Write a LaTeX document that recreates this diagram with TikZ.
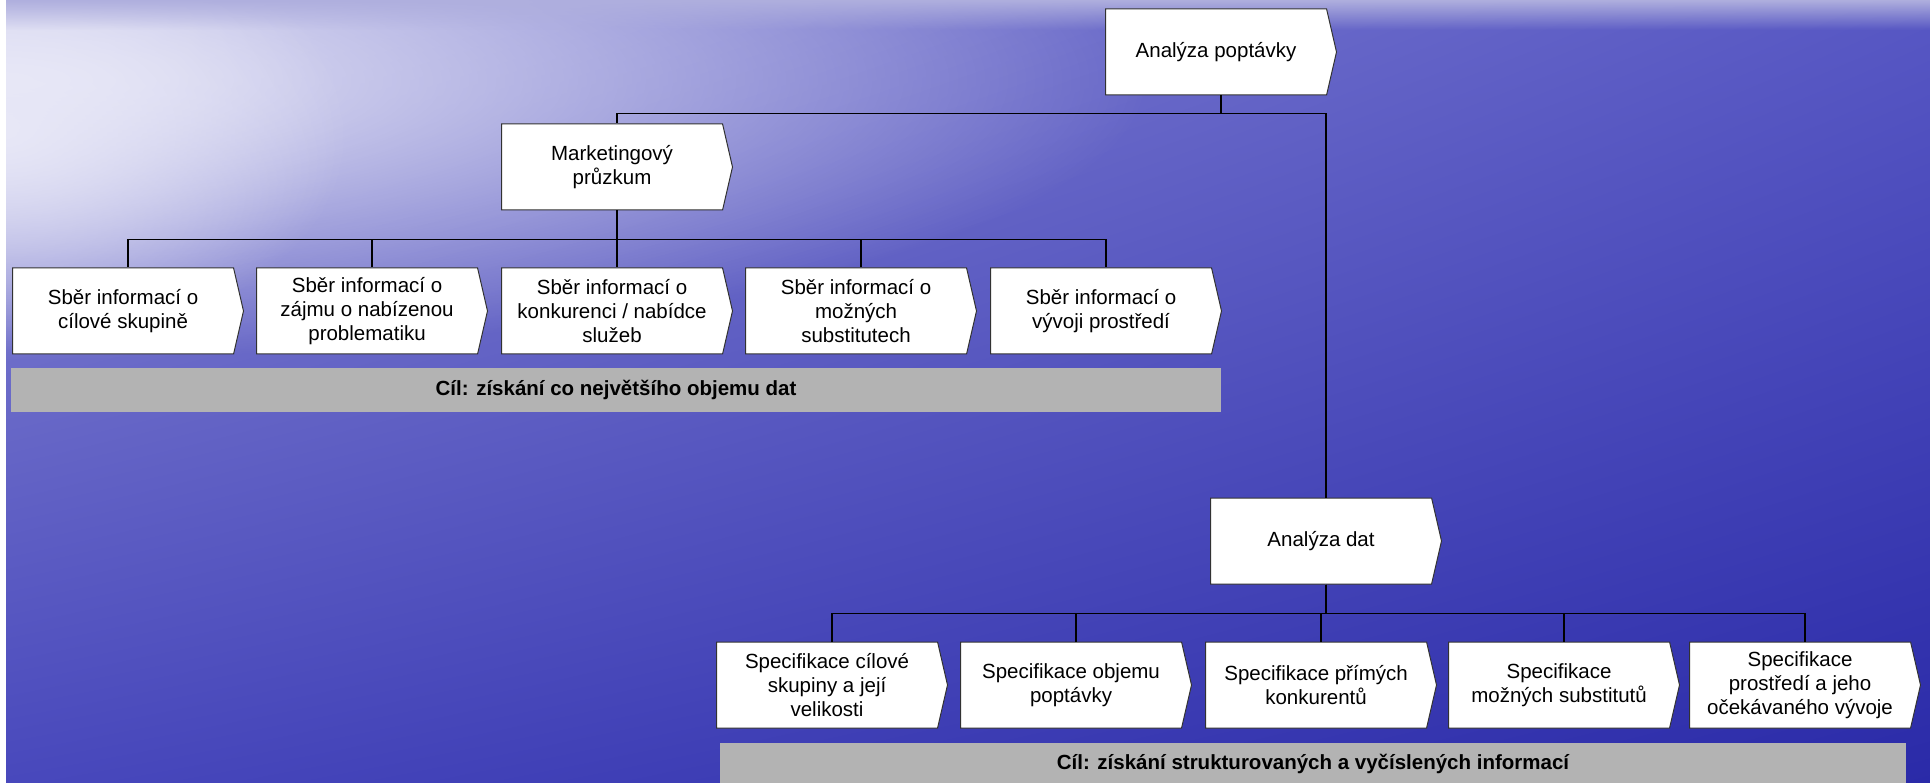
\documentclass[tikz,border=0pt]{standalone}
\usepackage{fontspec}
\setmainfont{Liberation Sans}
\usetikzlibrary{shapes.symbols,shadings,fadings}

\definecolor{seaUL}{RGB}{140,140,212}
\definecolor{seaUR}{RGB}{88,88,196}
\definecolor{seaLL}{RGB}{72,72,188}
\definecolor{seaLR}{RGB}{42,42,168}
\definecolor{glare}{RGB}{232,232,247}
\definecolor{topband}{RGB}{175,175,222}
\definecolor{bargray}{RGB}{179,179,179}
\definecolor{boxline}{RGB}{50,50,50}

\tikzfading[name=glarefade, inner color=transparent!0, outer color=transparent!100]

\begin{document}
\begin{tikzpicture}[
  x=1pt, y=-1pt,
  every node/.style={align=center, font=\fontsize{20.5}{24}\selectfont},
  stage/.style={signal, signal to=east, signal pointer angle=154, draw=boxline, line width=1pt, fill=white,
    minimum width=231pt, minimum height=86pt, inner sep=2pt, anchor=west},
  goal/.style={rectangle, fill=bargray, inner sep=0pt, font=\fontsize{20.5}{24}\selectfont\bfseries},
  link/.style={line width=1.4pt, black}
]

% Background (sea)
\useasboundingbox (0,0) rectangle (1930,783);
\shade[upper left=seaUL, upper right=seaUR, lower left=seaLL, lower right=seaLR] (0,0) rectangle (1930,783);
\fill[glare, path fading=glarefade] (0,80) ellipse [x radius=1150pt, y radius=280pt];
\fill[glare, path fading=glarefade] (0,130) ellipse [x radius=350pt, y radius=220pt];
\fill[topband, path fading=south] (0,0) rectangle (1930,30);
\fill[white] (0,0) rectangle (6,783);

% Top level
\node[stage] (poptavka) at (1105,52) {Analýza poptávky};

% Market research branch
\node[stage] (pruzkum) at (501,167) {Marketingový\\průzkum};

\node[stage] (sber1) at (12,311) {Sběr informací o\\cílové skupině};
\node[stage] (sber2) at (256,311) {Sběr informací o\\zájmu o nabízenou\\problematiku};
\node[stage] (sber3) at (501,311) {Sběr informací o\\konkurenci / nabídce\\služeb};
\node[stage] (sber4) at (745,311) {Sběr informací o\\možných\\substitutech};
\node[stage] (sber5) at (990,311) {Sběr informací o\\vývoji prostředí};

\node[goal, minimum width=1210pt, minimum height=43pt] (cil1) at (616,390) {Cíl: získání co největšího objemu dat};

% Data analysis branch
\node[stage] (analyza) at (1210,541) {Analýza dat};

\node[stage] (spec1) at (716,685) {Specifikace cílové\\skupiny a její\\velikosti};
\node[stage] (spec2) at (960,685) {Specifikace objemu\\poptávky};
\node[stage] (spec3) at (1205,685) {Specifikace přímých\\konkurentů};
\node[stage] (spec4) at (1448,685) {Specifikace\\možných substitutů};
\node[stage] (spec5) at (1689,685) {Specifikace\\prostředí a jeho\\očekávaného vývoje};

\node[goal, minimum width=1186pt, minimum height=42pt] (cil2) at (1313,764) {Cíl: získání strukturovaných a vyčíslených informací};

% Connectors (orthogonal tree, dropped at the middle of each arrow box)
\draw[link] ([xshift=5pt]poptavka.south) -- ++(0,18) -| ([xshift=5pt]pruzkum.north);
\draw[link] ([xshift=5pt]poptavka.south) -- ++(0,18) -| ([xshift=5pt]analyza.north);

\draw[link] ([xshift=5pt]pruzkum.south) -- ++(0,29) -| ([xshift=5pt]sber1.north);
\draw[link] ([xshift=5pt]pruzkum.south) -- ++(0,29) -| ([xshift=5pt]sber2.north);
\draw[link] ([xshift=5pt]pruzkum.south) -- ++(0,29) -| ([xshift=5pt]sber3.north);
\draw[link] ([xshift=5pt]pruzkum.south) -- ++(0,29) -| ([xshift=5pt]sber4.north);
\draw[link] ([xshift=5pt]pruzkum.south) -- ++(0,29) -| ([xshift=5pt]sber5.north);

\draw[link] ([xshift=5pt]analyza.south) -- ++(0,29) -| ([xshift=5pt]spec1.north);
\draw[link] ([xshift=5pt]analyza.south) -- ++(0,29) -| ([xshift=5pt]spec2.north);
\draw[link] ([xshift=5pt]analyza.south) -- ++(0,29) -| ([xshift=5pt]spec3.north);
\draw[link] ([xshift=5pt]analyza.south) -- ++(0,29) -| ([xshift=5pt]spec4.north);
\draw[link] ([xshift=5pt]analyza.south) -- ++(0,29) -| ([xshift=5pt]spec5.north);

\end{tikzpicture}
\end{document}
